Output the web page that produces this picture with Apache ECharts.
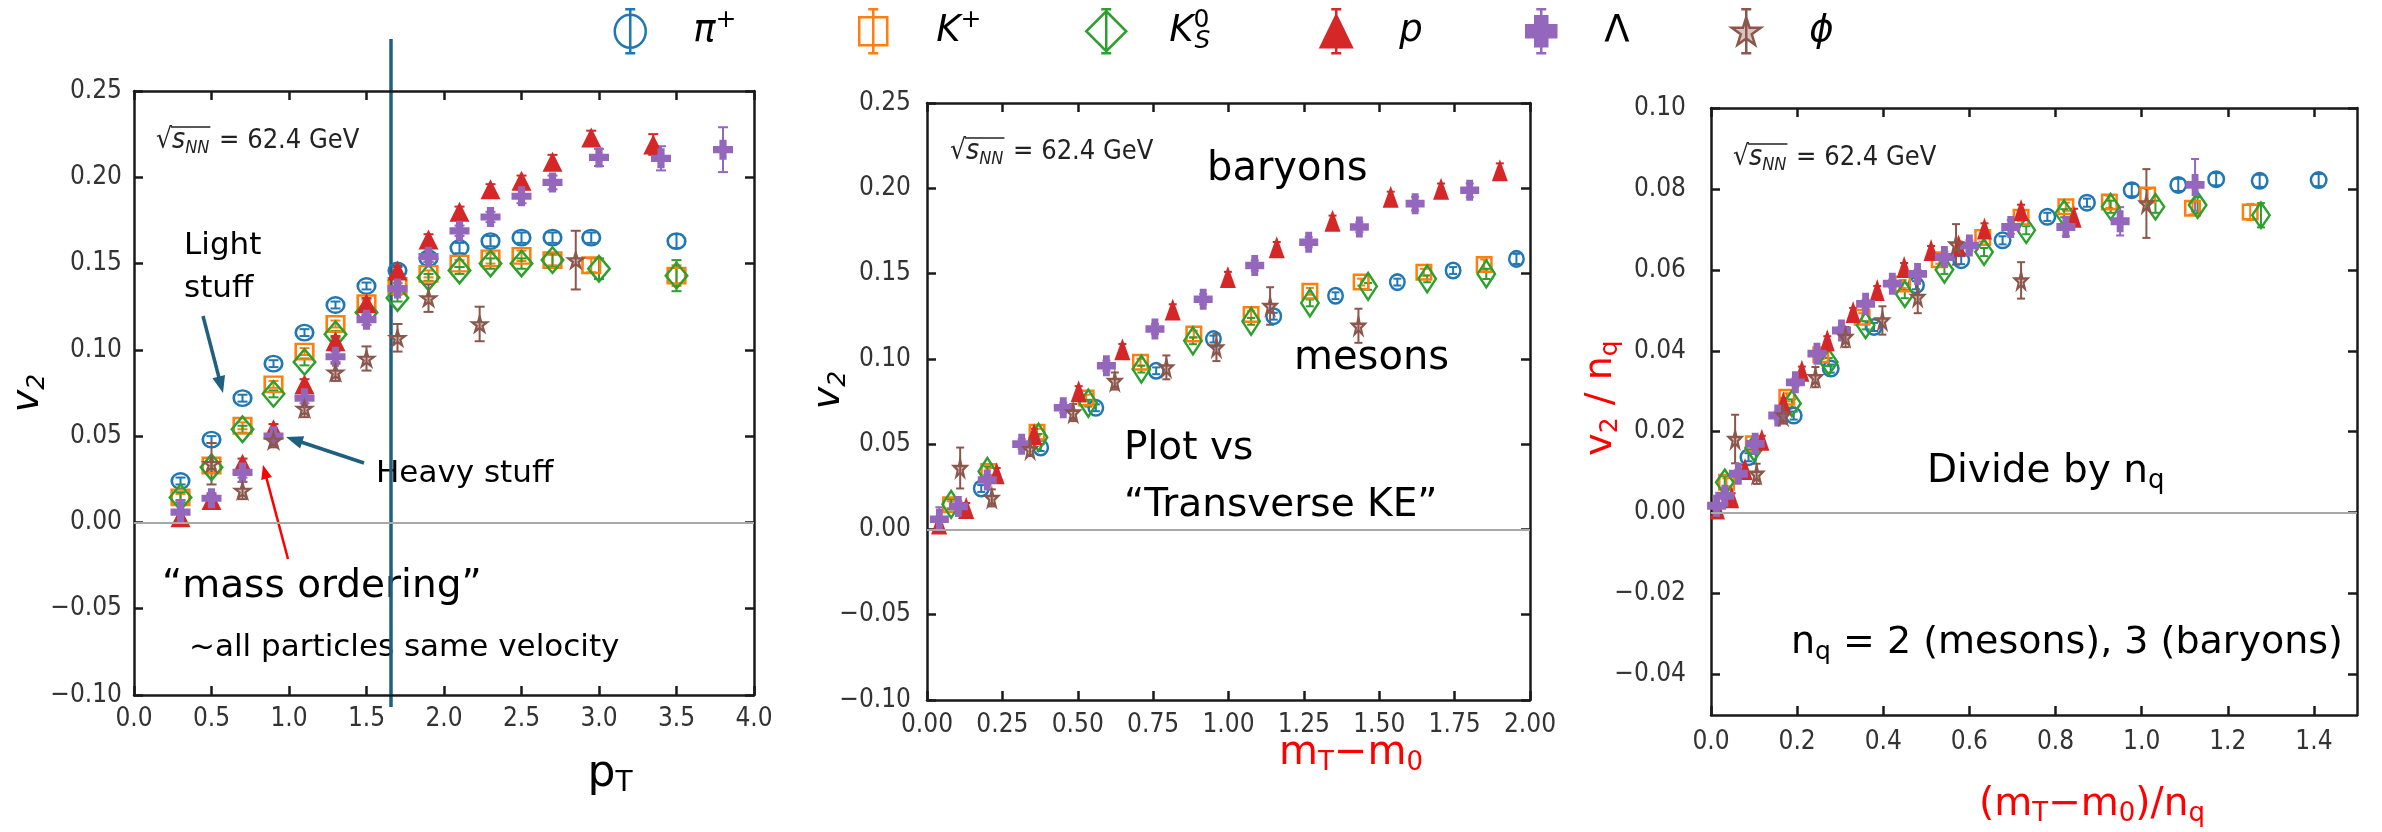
<!DOCTYPE html>
<html><head><meta charset="utf-8">
<script src="https://cdn.jsdelivr.net/npm/echarts@6/dist/echarts.min.js"></script>
<style>html,body{margin:0;padding:0;background:#fff}#c{width:2382px;height:832px}</style>
</head><body><div id="c"></div>
<script>
// ---------------- DATA ----------------
const speciesNames = ['π+', 'K+', 'K0S', 'p', 'Λ', 'φ'];
const speciesColors = ['#1f77b4', '#ff7f0e', '#2ca02c', '#d62728', '#9467bd', '#8c564b'];

// Panel 1: v2 vs pT  — entries [pT, v2, error]
const p1_pi  = [[0.3,0.024,0.002],[0.5,0.048,0.002],[0.7,0.072,0.002],[0.9,0.092,0.002],[1.1,0.110,0.002],[1.3,0.126,0.002],[1.5,0.137,0.002],[1.7,0.146,0.002],[1.9,0.153,0.002],[2.1,0.159,0.003],[2.3,0.163,0.003],[2.5,0.165,0.003],[2.7,0.165,0.003],[2.95,0.165,0.003],[3.5,0.163,0.004]];
const p1_kp  = [[0.3,0.0145,0.002],[0.5,0.033,0.002],[0.7,0.056,0.002],[0.9,0.080,0.002],[1.1,0.099,0.002],[1.3,0.115,0.002],[1.5,0.127,0.002],[1.7,0.137,0.002],[1.9,0.144,0.002],[2.1,0.150,0.002],[2.3,0.153,0.003],[2.5,0.1545,0.003],[2.7,0.152,0.003],[2.95,0.149,0.004],[3.5,0.143,0.006]];
const p1_k0  = [[0.3,0.0145,0.003],[0.5,0.032,0.003],[0.7,0.054,0.002],[0.9,0.0745,0.002],[1.1,0.093,0.002],[1.3,0.109,0.002],[1.5,0.1217,0.002],[1.7,0.130,0.002],[1.9,0.142,0.002],[2.1,0.146,0.002],[2.3,0.150,0.003],[2.5,0.150,0.003],[2.7,0.152,0.004],[3.0,0.147,0.006],[3.5,0.143,0.009]];
const p1_p   = [[0.3,0.003,0.003],[0.5,0.013,0.003],[0.7,0.034,0.003],[0.9,0.054,0.003],[1.1,0.080,0.003],[1.3,0.105,0.003],[1.5,0.127,0.003],[1.7,0.146,0.003],[1.9,0.164,0.003],[2.1,0.180,0.003],[2.3,0.193,0.003],[2.5,0.198,0.003],[2.7,0.209,0.004],[2.95,0.223,0.004],[3.35,0.219,0.006]];
const p1_lam = [[0.3,0.006,0.007],[0.5,0.014,0.003],[0.7,0.029,0.003],[0.9,0.050,0.003],[1.1,0.072,0.003],[1.3,0.096,0.003],[1.5,0.1175,0.003],[1.7,0.1355,0.003],[1.9,0.154,0.003],[2.1,0.169,0.003],[2.3,0.177,0.003],[2.5,0.189,0.004],[2.7,0.197,0.004],[3.0,0.2115,0.005],[3.4,0.211,0.007],[3.8,0.216,0.013]];
const p1_phi = [[0.5,0.034,0.012],[0.7,0.0185,0.005],[0.9,0.0475,0.004],[1.1,0.066,0.005],[1.3,0.087,0.005],[1.5,0.095,0.007],[1.7,0.107,0.008],[1.9,0.130,0.008],[2.23,0.115,0.010],[2.85,0.152,0.017]];

// Panel 2: v2 vs mT - m0 — entries [mT-m0, v2, error]
const p2_pi  = [[0.18,0.024,0.002],[0.377,0.048,0.002],[0.56,0.0713,0.002],[0.76,0.093,0.002],[0.95,0.1116,0.002],[1.15,0.125,0.002],[1.355,0.137,0.002],[1.56,0.145,0.002],[1.745,0.1518,0.002],[1.955,0.1586,0.003]];
const p2_kp  = [[0.078,0.0145,0.002],[0.205,0.034,0.002],[0.365,0.057,0.002],[0.528,0.077,0.002],[0.708,0.098,0.002],[0.885,0.1145,0.002],[1.075,0.126,0.002],[1.27,0.1396,0.002],[1.44,0.145,0.002],[1.648,0.1508,0.002],[1.848,0.1553,0.003]];
const p2_k0  = [[0.08,0.0147,0.003],[0.2,0.034,0.003],[0.37,0.054,0.002],[0.535,0.074,0.002],[0.711,0.094,0.002],[0.882,0.1106,0.002],[1.075,0.122,0.002],[1.27,0.1328,0.002],[1.463,0.1425,0.002],[1.659,0.1469,0.002],[1.855,0.1498,0.003]];
const p2_p   = [[0.04,0.0035,0.003],[0.13,0.0125,0.003],[0.231,0.033,0.003],[0.355,0.056,0.003],[0.503,0.081,0.003],[0.648,0.1057,0.003],[0.815,0.129,0.003],[0.998,0.148,0.003],[1.16,0.1655,0.003],[1.345,0.181,0.003],[1.538,0.195,0.003],[1.705,0.1998,0.003],[1.9,0.2106,0.004]];
const p2_lam = [[0.041,0.006,0.007],[0.104,0.0135,0.003],[0.2,0.029,0.003],[0.314,0.050,0.003],[0.452,0.0713,0.003],[0.595,0.096,0.003],[0.756,0.1175,0.003],[0.916,0.135,0.003],[1.087,0.1547,0.003],[1.266,0.1684,0.003],[1.434,0.1773,0.003],[1.619,0.191,0.004],[1.80,0.1988,0.004]];
const p2_phi = [[0.11,0.036,0.012],[0.215,0.0185,0.005],[0.342,0.047,0.004],[0.485,0.0685,0.005],[0.623,0.087,0.005],[0.794,0.095,0.007],[0.96,0.1067,0.008],[1.138,0.131,0.011],[1.431,0.1194,0.010]];

// Panel 3: v2/nq vs (mT - m0)/nq — entries [x, v2/nq, error]
const p3_pi  = [[0.087,0.0137,0.001],[0.192,0.024,0.001],[0.278,0.0356,0.001],[0.3785,0.0459,0.001],[0.476,0.0562,0.001],[0.581,0.0624,0.001],[0.677,0.0673,0.001],[0.781,0.0731,0.001],[0.873,0.0766,0.001],[0.977,0.0797,0.0015],[1.085,0.081,0.0015],[1.173,0.0824,0.0015],[1.274,0.082,0.0015],[1.411,0.0822,0.0015]];
const p3_kp  = [[0.036,0.0075,0.001],[0.0985,0.017,0.001],[0.176,0.0285,0.001],[0.255,0.039,0.001],[0.351,0.0483,0.001],[0.445,0.0565,0.001],[0.53,0.0625,0.001],[0.631,0.068,0.001],[0.72,0.073,0.001],[0.824,0.0756,0.001],[0.925,0.0768,0.0015],[1.014,0.0785,0.0015],[1.118,0.0752,0.0015],[1.252,0.0743,0.002]];
const p3_k0  = [[0.032,0.0075,0.0015],[0.10,0.016,0.0015],[0.188,0.027,0.001],[0.2735,0.0372,0.001],[0.359,0.0463,0.001],[0.45,0.054,0.001],[0.542,0.060,0.001],[0.634,0.0644,0.001],[0.732,0.0698,0.001],[0.82,0.074,0.001],[0.928,0.0756,0.0015],[1.032,0.0756,0.0015],[1.13,0.076,0.002],[1.277,0.0735,0.003]];
const p3_p   = [[0.015,0.001,0.001],[0.048,0.0038,0.001],[0.079,0.0108,0.001],[0.118,0.018,0.001],[0.168,0.0273,0.001],[0.211,0.0351,0.001],[0.27,0.0426,0.001],[0.33,0.0496,0.001],[0.386,0.055,0.001],[0.4485,0.0607,0.001],[0.511,0.0649,0.001],[0.575,0.066,0.001],[0.635,0.0702,0.0013],[0.72,0.0748,0.0013],[0.843,0.0731,0.002]];
const p3_lam = [[0.013,0.0017,0.0023],[0.032,0.0042,0.001],[0.0635,0.0096,0.001],[0.1025,0.017,0.001],[0.155,0.024,0.001],[0.196,0.0322,0.001],[0.246,0.0393,0.001],[0.303,0.045,0.001],[0.359,0.0516,0.001],[0.421,0.0566,0.001],[0.4796,0.059,0.001],[0.542,0.0632,0.0013],[0.60,0.066,0.0013],[0.696,0.0706,0.0017],[0.824,0.0706,0.0023],[0.95,0.072,0.0035],[1.124,0.081,0.0064]];
const p3_phi = [[0.056,0.0182,0.006],[0.106,0.0096,0.0025],[0.168,0.024,0.002],[0.2425,0.0335,0.0025],[0.3125,0.0434,0.0025],[0.398,0.0475,0.0035],[0.48,0.0533,0.004],[0.569,0.0663,0.005],[0.72,0.0574,0.0045],[1.011,0.0764,0.0085]];

// Tick values
const p1_xticks = [0, 0.5, 1.0, 1.5, 2.0, 2.5, 3.0, 3.5, 4.0];
const p1_yticks = [-0.10, -0.05, 0.00, 0.05, 0.10, 0.15, 0.20, 0.25];
const p2_xticks = [0, 0.25, 0.5, 0.75, 1.0, 1.25, 1.5, 1.75, 2.0];
const p2_yticks = [-0.10, -0.05, 0.00, 0.05, 0.10, 0.15, 0.20, 0.25];
const p3_xticks = [0, 0.2, 0.4, 0.6, 0.8, 1.0, 1.2, 1.4];
const p3_yticks = [-0.04, -0.02, 0.00, 0.02, 0.04, 0.06, 0.08, 0.10];

// ---------------- STYLE ----------------
const TICKFONT = '"DejaVu Sans Condensed","Liberation Sans Narrow","DejaVu Sans",sans-serif';
const SLIDEFONT = '"DejaVu Sans",sans-serif';
const AXC = '#1a1a1a';
const TEAL = '#1f5f7f';

const panelData = [
  [p1_pi, p1_kp, p1_k0, p1_p, p1_lam, p1_phi],
  [p2_pi, p2_kp, p2_k0, p2_p, p2_lam, p2_phi],
  [p3_pi, p3_kp, p3_k0, p3_p, p3_lam, p3_phi]
];

const PLUS = 'path://M3.2,0 L6.8,0 L6.8,3.2 L10,3.2 L10,6.8 L6.8,6.8 L6.8,10 L3.2,10 L3.2,6.8 L0,6.8 L0,3.2 L3.2,3.2 Z';
const STAR = 'path://M50,0 L61,35 L98,35 L68,57 L79,91 L50,70 L21,91 L32,57 L2,35 L39,35 Z';
const markerSymbols = ['circle', 'rect', 'diamond', 'triangle', PLUS, STAR];
const markerHollow = [true, true, true, false, false, true];
// marker sizes per panel (pixels)
const markerSizes = [
  [[17.5, 15.5], [17.5, 15.5], [21.5, 25.5], [20, 20], [20, 20], [15, 15]],
  [[14.5, 15.5], [14.5, 14.5], [17.5, 27], [16, 22], [19, 21], [13, 17]],
  [[15.5, 15.5], [14.5, 14.5], [17.5, 25.5], [15, 22], [19, 22], [13, 17]]
];
const capHalf = [5, 4, 4];

const legendIcons = [
  'path://M0,0 M44,46 M22,1 L22,45 M17,1 L27,1 M17,45 L27,45 M37.5,23 A15.5,16.5 0 1 1 6.5,23 A15.5,16.5 0 1 1 37.5,23 Z',
  'path://M0,0 M44,46 M22,1 L22,45 M17,1 L27,1 M17,45 L27,45 M8,9 L36,9 L36,37 L8,37 Z',
  'path://M0,0 M44,46 M22,1 L22,45 M17,1 L27,1 M17,45 L27,45 M22,3 L42,23 L22,43 L2,23 Z',
  'path://M0,0 M44,46 M22,1 L22,45 M17,1 L27,1 M17,45 L27,45 M22,7 L37.5,39 L6.5,39 Z',
  'path://M0,0 M44,46 M22,1 L22,45 M17,1 L27,1 M17,45 L27,45 M16,8 L28,8 L28,17 L37,17 L37,29 L28,29 L28,38 L16,38 L16,29 L7,29 L7,17 L16,17 Z',
  'path://M0,0 M44,46 M22,1 L22,45 M17,1 L27,1 M17,45 L27,45 M22,9 L25.3,19.5 L36.5,19.5 L27.5,26 L30.8,36.5 L22,30.2 L13.2,36.5 L16.5,26 L7.5,19.5 L18.7,19.5 Z'
];
const legendLabels = {
  'π+': '{i|π}{sup|+}',
  'K+': '{i|K}{sup|+}',
  'K0S': '{i|K}{sup0|0}{sub|S}',
  'p': '{i|p}',
  'Λ': '{u|Λ}',
  'φ': '{i|ϕ}'
};
const legendCenters = [629, 872, 1105, 1335, 1540, 1745];

// ---------------- AXES ----------------
const grids = [
  { left: 134, top: 91, width: 620, height: 604, outerBoundsMode: 'none' },
  { left: 927, top: 103, width: 603, height: 597, outerBoundsMode: 'none' },
  { left: 1711, top: 108, width: 646, height: 607, outerBoundsMode: 'none' }
];

function fmt(dec) {
  return function (v) {
    const s = Math.abs(v).toFixed(dec);
    return (v < -1e-9 ? '\u2212' : '') + s;
  };
}

function baseAxis(gi, pos, min, max, ticks, showLabel, dec, margin) {
  return {
    type: 'value', gridIndex: gi, position: pos, min: min, max: max,
    axisLine: { show: true, onZero: false, lineStyle: { color: AXC, width: 2.5 } },
    axisTick: { show: true, inside: true, length: 9, customValues: ticks, lineStyle: { color: AXC, width: 2.5 } },
    axisLabel: { show: showLabel, customValues: ticks, formatter: fmt(dec), margin: margin,
      fontSize: 26, fontFamily: TICKFONT, color: '#333' },
    splitLine: { show: false },
    nameMoveOverlap: false
  };
}

const xAxes = [], yAxes = [];
// panel 1
xAxes.push(Object.assign(baseAxis(0, 'bottom', 0, 4, p1_xticks, true, 1, 11), {
  name: '{p|p}{s|T}', nameLocation: 'middle', nameGap: 57,
  nameTextStyle: { padding: [0, 0, 0, 332], rich: {
    p: { fontSize: 44, fontFamily: SLIDEFONT, color: '#000', lineHeight: 46 },
    s: { fontSize: 28, fontFamily: SLIDEFONT, color: '#000', lineHeight: 30, verticalAlign: 'bottom' } } }
}));
xAxes.push(baseAxis(0, 'top', 0, 4, p1_xticks, false, 1, 8));
yAxes.push(Object.assign(baseAxis(0, 'left', -0.10, 0.25, p1_yticks, true, 2, 12), {
  name: '{v|v}{s|2}', nameLocation: 'middle', nameGap: 84,
  nameTextStyle: { rich: {
    v: { fontSize: 38, fontFamily: SLIDEFONT, fontStyle: 'italic', color: '#000', lineHeight: 44 },
    s: { fontSize: 25, fontFamily: SLIDEFONT, fontStyle: 'italic', color: '#000', lineHeight: 26, verticalAlign: 'bottom' } } }
}));
yAxes.push(baseAxis(0, 'right', -0.10, 0.25, p1_yticks, false, 2, 8));
// panel 2
xAxes.push(Object.assign(baseAxis(1, 'bottom', 0, 2, p2_xticks, true, 2, 12), {
  name: '{m|m}{s|T}{m|\u2212m}{s|0}', nameLocation: 'middle', nameGap: 32,
  nameTextStyle: { padding: [0, 0, 0, 245], rich: {
    m: { fontSize: 40, fontFamily: SLIDEFONT, color: '#ff0000', lineHeight: 44 },
    s: { fontSize: 26, fontFamily: SLIDEFONT, color: '#ff0000', lineHeight: 28, verticalAlign: 'bottom' } } }
}));
xAxes.push(baseAxis(1, 'top', 0, 2, p2_xticks, false, 2, 8));
yAxes.push(Object.assign(baseAxis(1, 'left', -0.10, 0.25, p2_yticks, true, 2, 16), {
  name: '{g| }{v|v}{s|2}', nameLocation: 'middle', nameGap: 76,
  nameTextStyle: { rich: {
    g: { width: 23, fontSize: 10 },
    v: { fontSize: 38, fontFamily: SLIDEFONT, fontStyle: 'italic', color: '#000', lineHeight: 44 },
    s: { fontSize: 25, fontFamily: SLIDEFONT, fontStyle: 'italic', color: '#000', lineHeight: 26, verticalAlign: 'bottom' } } }
}));
yAxes.push(baseAxis(1, 'right', -0.10, 0.25, p2_yticks, false, 2, 8));
// panel 3 (its y title is drawn as a rotated text below)
xAxes.push(Object.assign(baseAxis(2, 'bottom', 0, 1.5, p3_xticks, true, 1, 14), {
  name: '{m|(m}{s|T}{m|\u2212m}{s|0}{m|)/n}{s|q}', nameLocation: 'middle', nameGap: 68,
  nameTextStyle: { padding: [0, 0, 0, 116], rich: {
    m: { fontSize: 39, fontFamily: SLIDEFONT, color: '#ff0000', lineHeight: 44 },
    s: { fontSize: 26, fontFamily: SLIDEFONT, color: '#ff0000', lineHeight: 28, verticalAlign: 'bottom' } } }
}));
xAxes.push(baseAxis(2, 'top', 0, 1.5, p3_xticks, false, 1, 8));
yAxes.push(baseAxis(2, 'left', -0.05, 0.10, p3_yticks, true, 2, 25));
yAxes.push(baseAxis(2, 'right', -0.05, 0.10, p3_yticks, false, 2, 8));

// ---------------- SERIES ----------------
function errRender(color, c) {
  return function (params, api) {
    const x = api.value(0), y = api.value(1), e = api.value(2);
    const a = api.coord([x, y - e]);
    const b = api.coord([x, y + e]);
    const st = { stroke: color, lineWidth: 2 };
    return { type: 'group', children: [
      { type: 'line', shape: { x1: a[0], y1: a[1], x2: b[0], y2: b[1] }, style: st },
      { type: 'line', shape: { x1: a[0] - c, y1: a[1], x2: a[0] + c, y2: a[1] }, style: st },
      { type: 'line', shape: { x1: b[0] - c, y1: b[1], x2: b[0] + c, y2: b[1] }, style: st }
    ] };
  };
}

function markerStyle(si) {
  const col = speciesColors[si];
  if (si === 5) return { color: 'rgba(140,86,75,0.35)', borderColor: col, borderWidth: 2.2, opacity: 1 };
  return markerHollow[si]
    ? { color: 'rgba(255,255,255,0)', borderColor: col, borderWidth: 2.5, opacity: 1 }
    : { color: col, borderColor: col, borderWidth: 0, opacity: 1 };
}

const series = [];
for (let pi = 0; pi < 3; pi++) {
  const ax = pi * 2;
  series.push({
    type: 'line', xAxisIndex: ax, yAxisIndex: ax, data: [], silent: true,
    markLine: { silent: true, symbol: ['none', 'none'], label: { show: false }, animation: false,
      lineStyle: { color: '#a8a8a8', width: 2, type: 'solid' }, emphasis: { disabled: true },
      data: [{ yAxis: 0 }] }
  });
  for (let si = 0; si < 6; si++) {
    const col = speciesColors[si];
    series.push({
      type: 'scatter', name: speciesNames[si], xAxisIndex: ax, yAxisIndex: ax,
      data: panelData[pi][si], symbol: markerSymbols[si], symbolSize: markerSizes[pi][si],
      silent: true, clip: true, itemStyle: markerStyle(si), emphasis: { disabled: true }
    });
    series.push({
      type: 'custom', name: speciesNames[si], xAxisIndex: ax, yAxisIndex: ax,
      data: panelData[pi][si], renderItem: errRender(col, capHalf[pi]), clip: true, silent: true,
      encode: { x: 0, y: 1 }
    });
  }
}

// ---------------- ANNOTATIONS ----------------
const mctx = document.createElement('canvas').getContext('2d');
function tw(font, s) { mctx.font = font; return mctx.measureText(s).width; }

function sqrtNN(x, y) {
  const f1 = '28px ' + TICKFONT, f2 = 'italic 28px ' + TICKFONT, f3 = 'italic 18px ' + TICKFONT, f4 = '27px ' + TICKFONT;
  const wR = tw(f1, '\u221A'), wS = tw(f2, 's'), wN = tw(f3, 'NN');
  const x1 = x + wR, x2 = x1 + wS, x3 = x2 + wN;
  return [
    { type: 'text', x: x, y: y, style: { text: '\u221A', font: f1, fill: '#222', verticalAlign: 'middle' } },
    { type: 'text', x: x1, y: y, style: { text: 's', font: f2, fill: '#222', verticalAlign: 'middle' } },
    { type: 'text', x: x2, y: y + 7, style: { text: 'NN', font: f3, fill: '#222', verticalAlign: 'middle' } },
    { type: 'text', x: x3 + 2, y: y, style: { text: ' = 62.4 GeV', font: f4, fill: '#222', verticalAlign: 'middle' } },
    { type: 'line', shape: { x1: x1 - 1, y1: y - 14, x2: x3 + 1, y2: y - 14 }, style: { stroke: '#222', lineWidth: 1.5 } }
  ];
}

function arrow(x1, y1, x2, y2, color, w, L, W) {
  const a = Math.atan2(y2 - y1, x2 - x1), c = Math.cos(a), s = Math.sin(a);
  const bx = x2 - L * c, by = y2 - L * s;
  return [
    { type: 'line', shape: { x1: x1, y1: y1, x2: bx + 2 * c, y2: by + 2 * s }, style: { stroke: color, lineWidth: w } },
    { type: 'polygon', shape: { points: [[x2, y2], [bx - W * s, by + W * c], [bx + W * s, by - W * c]] }, style: { fill: color } }
  ];
}

function txt(x, y, text, size, rich) {
  const style = { text: text, fill: '#000', fontSize: size, fontFamily: SLIDEFONT, verticalAlign: 'middle', align: 'left' };
  if (rich) style.rich = rich;
  return { type: 'text', x: x, y: y, style: style };
}
const nqRich = (size) => ({
  n: { fontSize: size, fontFamily: SLIDEFONT, fill: '#000', lineHeight: size + 6 },
  q: { fontSize: Math.round(size * 0.66), fontFamily: SLIDEFONT, fill: '#000', lineHeight: Math.round(size * 0.66), verticalAlign: 'bottom' }
});

// rotated y-axis title of panel 3
const p3YTitle = {
  type: 'text', x: 1601, y: 398, rotation: Math.PI / 2,
  style: {
    text: '{m|v}{s|2}{m| / n}{s|q}', align: 'center', verticalAlign: 'middle',
    rich: {
      m: { fontSize: 38, fontFamily: SLIDEFONT, fill: '#ff0000', lineHeight: 44 },
      s: { fontSize: 25, fontFamily: SLIDEFONT, fill: '#ff0000', lineHeight: 26, verticalAlign: 'bottom' }
    }
  }
};

const graphics = [].concat(
  sqrtNN(156, 141), sqrtNN(950, 152), sqrtNN(1733, 158),
  [
    p3YTitle,
    txt(184, 246, 'Light', 31),
    txt(184, 289, 'stuff', 31),
    txt(376, 474, 'Heavy stuff', 31),
    txt(162, 587, '\u201Cmass ordering\u201D', 39),
    txt(189, 648, '~all particles same velocity', 31),
    txt(1207, 170, 'baryons', 40),
    txt(1294, 359, 'mesons', 40),
    txt(1124, 449, 'Plot vs', 39),
    txt(1124, 506, '\u201CTransverse KE\u201D', 39),
    txt(1927, 472, '{n|Divide by n}{q|q}', 39, nqRich(39)),
    txt(1791, 643, '{n|n}{q|q}{n| = 2 (mesons), 3 (baryons)}', 38, nqRich(38))
  ],
  arrow(203, 316, 223, 393, TEAL, 3.5, 17, 6.5),
  arrow(364, 463, 286, 437, TEAL, 3.5, 17, 6.5),
  arrow(288, 559, 263, 465, '#ff0000', 2.5, 14, 5.5),
  [{ type: 'line', shape: { x1: 391, y1: 39, x2: 391, y2: 707 }, style: { stroke: TEAL, lineWidth: 3.5 } }]
);

// ---------------- LEGEND ----------------
const legendTextStyle = {
  padding: [0, 0, 0, 36], color: '#000',
  rich: {
    i: { fontSize: 37, fontFamily: SLIDEFONT, fontStyle: 'italic', color: '#000', lineHeight: 46 },
    u: { fontSize: 37, fontFamily: SLIDEFONT, color: '#000', lineHeight: 46 },
    sup: { fontSize: 25, fontFamily: SLIDEFONT, color: '#000', lineHeight: 24, verticalAlign: 'top' },
    sup0: { fontSize: 25, fontFamily: SLIDEFONT, color: '#000', lineHeight: 24, verticalAlign: 'top', width: 1 },
    sub: { fontSize: 25, fontFamily: SLIDEFONT, fontStyle: 'italic', color: '#000', lineHeight: 24, verticalAlign: 'bottom' }
  }
};
const legends = speciesNames.map((n, i) => {
  const col = speciesColors[i];
  const st = markerHollow[i]
    ? { color: i === 5 ? 'rgba(140,86,75,0.35)' : 'rgba(255,255,255,0)', borderColor: col, borderWidth: 2.5 }
    : { color: col, borderColor: col, borderWidth: 2.5 };
  return {
    show: true, left: legendCenters[i] - 22, top: 7, padding: 0, itemWidth: 44, itemHeight: 46,
    selectedMode: false,
    data: [{ name: n, icon: legendIcons[i], itemStyle: st }],
    formatter: (name) => legendLabels[name],
    textStyle: legendTextStyle
  };
});

const chart = echarts.init(document.getElementById('c'), null, { renderer: 'canvas', width: 2382, height: 832 });
chart.setOption({
  animation: false,
  backgroundColor: '#ffffff',
  grid: grids,
  xAxis: xAxes,
  yAxis: yAxes,
  legend: legends,
  graphic: { elements: graphics },
  series: series
});
</script>
</body></html>
